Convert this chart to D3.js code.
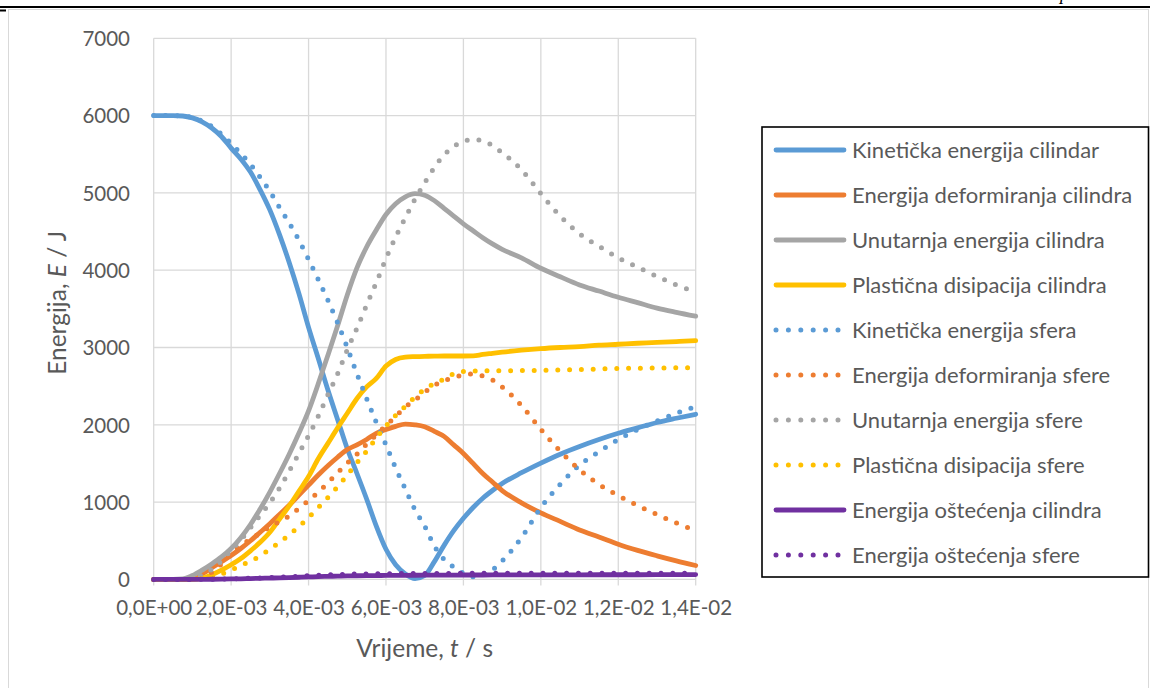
<!DOCTYPE html>
<html>
<head>
<meta charset="utf-8">
<script src="https://cdn.jsdelivr.net/npm/d3@7"></script>
<style>
  body { margin: 0; background: #fff; }
  svg { display: block; font-family: Lato, "Open Sans", sans-serif; }
</style>
</head>
<body>
<svg id="chart" width="1150" height="688"></svg>
<script>
// ---------- data ----------
const times = [0, 0.00025, 0.0005, 0.00075, 0.001, 0.00125, 0.0015, 0.00175, 0.002, 0.00225,
  0.0025, 0.00275, 0.003, 0.00325, 0.0035, 0.00375, 0.004, 0.00425, 0.0045, 0.00475,
  0.005, 0.00525, 0.0055, 0.00575, 0.006, 0.00625, 0.0065, 0.00675, 0.007, 0.00725,
  0.0075, 0.00775, 0.008, 0.00825, 0.0085, 0.00875, 0.009, 0.0095, 0.010, 0.0105,
  0.011, 0.0115, 0.012, 0.0125, 0.013, 0.0135, 0.014];

const kineticCyl = [6000, 6000, 6000, 5995, 5970, 5920, 5840, 5730, 5580, 5440,
  5270, 5040, 4780, 4460, 4100, 3700, 3260, 2860, 2450, 2070,
  1690, 1370, 1040, 690, 390, 190, 70, 10, 50, 230,
  440, 630, 790, 930, 1050, 1150, 1240, 1380, 1505, 1620,
  1720, 1810, 1890, 1960, 2030, 2085, 2136];
const deformCyl = [0, 0, 0, 0, 10, 70, 150, 230, 310, 400,
  500, 610, 720, 840, 960, 1090, 1220, 1350, 1470, 1580,
  1680, 1740, 1810, 1890, 1940, 1980, 2010, 2000, 1975, 1915,
  1850, 1740, 1630, 1500, 1370, 1260, 1150, 990, 860, 750,
  640, 550, 455, 375, 305, 240, 180];
const internalCyl = [0, 0, 0, 5, 50, 120, 200, 290, 400, 540,
  710, 910, 1130, 1370, 1620, 1890, 2180, 2530, 2900, 3280,
  3680, 4030, 4300, 4520, 4720, 4860, 4950, 4990, 4970, 4900,
  4800, 4700, 4600, 4510, 4420, 4340, 4270, 4160, 4025, 3915,
  3810, 3730, 3650, 3580, 3510, 3455, 3405];
const plasticCyl = [0, 0, 0, 0, 0, 15, 60, 120, 190, 270,
  370, 480, 610, 780, 950, 1140, 1330, 1560, 1760, 1960,
  2150, 2340, 2490, 2600, 2760, 2845, 2875, 2882, 2886, 2888,
  2890, 2890, 2890, 2892, 2910, 2925, 2940, 2965, 2985, 3000,
  3012, 3030, 3042, 3055, 3065, 3077, 3088];
const kineticSph = [6000, 6000, 6000, 5995, 5975, 5930, 5860, 5760, 5640, 5510,
  5370, 5200, 5020, 4810, 4610, 4390, 4140, 3880, 3610, 3320,
  3000, 2660, 2340, 2030, 1740, 1440, 1170, 900, 690, 430,
  260, 160, 80, 35, 65, 125, 240, 540, 930, 1230,
  1480, 1650, 1810, 1940, 2050, 2150, 2235];
const deformSph = [0, 0, 0, 0, 5, 30, 90, 200, 330, 440,
  520, 600, 680, 750, 820, 920, 1020, 1130, 1250, 1380,
  1505, 1620, 1750, 1870, 1990, 2110, 2230, 2320, 2420, 2510,
  2570, 2610, 2645, 2658, 2630, 2580, 2490, 2250, 1940, 1660,
  1420, 1230, 1085, 955, 840, 730, 630];
const internalSph = [0, 0, 0, 0, 20, 60, 130, 240, 380, 510,
  670, 830, 990, 1180, 1400, 1630, 1860, 2110, 2390, 2660,
  2970, 3250, 3550, 3840, 4150, 4430, 4680, 4920, 5130, 5330,
  5490, 5600, 5665, 5690, 5675, 5610, 5520, 5300, 4990, 4700,
  4470, 4310, 4160, 4040, 3920, 3810, 3720];
const plasticSph = [0, 0, 0, 0, 0, 10, 30, 70, 120, 180,
  235, 305, 390, 480, 575, 685, 800, 930, 1060, 1200,
  1350, 1510, 1660, 1830, 1985, 2120, 2240, 2360, 2460, 2535,
  2590, 2660, 2690, 2696, 2698, 2700, 2700, 2702, 2705, 2710,
  2715, 2722, 2728, 2732, 2735, 2738, 2740];
const damageCyl = [0, 0, 0, 0, 0, 1, 2, 4, 6, 8,
  11, 14, 17, 20, 24, 28, 32, 36, 39, 42,
  45, 47, 49, 50, 51, 52, 53, 54, 55, 55,
  56, 56, 57, 57, 57, 58, 58, 58, 59, 59,
  59, 60, 60, 60, 61, 61, 62];
const damageSph = [0, 0, 0, 0, 0, 1, 3, 5, 8, 11,
  15, 19, 24, 29, 35, 41, 47, 53, 58, 62,
  66, 69, 71, 73, 74, 75, 76, 76, 77, 77,
  77, 78, 78, 78, 78, 79, 79, 79, 79, 80,
  80, 80, 80, 80, 81, 81, 81];

const seriesNames = ["Kinetička energija cilindar", "Energija deformiranja cilindra",
  "Unutarnja energija cilindra", "Plastična disipacija cilindra",
  "Kinetička energija sfera", "Energija deformiranja sfere",
  "Unutarnja energija sfere", "Plastična disipacija sfere",
  "Energija oštećenja cilindra", "Energija oštećenja sfere"];
const seriesValues = [kineticCyl, deformCyl, internalCyl, plasticCyl,
  kineticSph, deformSph, internalSph, plasticSph, damageCyl, damageSph];
const seriesColors = ["#5B9BD5", "#ED7D31", "#A5A5A5", "#FFC000",
  "#5B9BD5", "#ED7D31", "#A5A5A5", "#FFC000", "#7030A0", "#7030A0"];
const seriesDotted = [false, false, false, false, true, true, true, true, false, true];

const xTicks = [0, 0.002, 0.004, 0.006, 0.008, 0.010, 0.012, 0.014];
const xTickLabels = ["0,0E+00", "2,0E-03", "4,0E-03", "6,0E-03", "8,0E-03", "1,0E-02", "1,2E-02", "1,4E-02"];
const yTicks = [0, 1000, 2000, 3000, 4000, 5000, 6000, 7000];

// ---------- layout ----------
const svg = d3.select("#chart");
const plot = { left: 153.7, right: 695.7, top: 38.3, bottom: 579.4 };
const textCol = "#595959";
const gridCol = "#D9D9D9";

const x = d3.scaleLinear().domain([0, 0.014]).range([plot.left, plot.right]);
const y = d3.scaleLinear().domain([0, 7000]).range([plot.bottom, plot.top]);

svg.append("rect").attr("width", 1150).attr("height", 688).attr("fill", "#fff");

// page decorations (document context around the chart)
svg.append("rect").attr("x", 8.5).attr("y", 9.5).attr("width", 1140).attr("height", 700)
  .attr("fill", "none").attr("stroke", gridCol).attr("stroke-width", 1);
svg.append("line").attr("x1", 0).attr("x2", 1150).attr("y1", 7).attr("y2", 7)
  .attr("stroke", "#000").attr("stroke-width", 2);
svg.append("line").attr("x1", 0).attr("x2", 6).attr("y1", 10.5).attr("y2", 10.5)
  .attr("stroke", "#000").attr("stroke-width", 2);
svg.append("text").attr("x", 1060).attr("y", 0).text("p")
  .attr("font-family", "Liberation Serif").attr("font-style", "italic")
  .attr("font-size", 18).attr("fill", "#000");

// gridlines
const g = svg.append("g");
g.selectAll(".hgrid").data(yTicks).join("line")
  .attr("x1", plot.left).attr("x2", plot.right)
  .attr("y1", d => y(d)).attr("y2", d => y(d))
  .attr("stroke", gridCol).attr("stroke-width", 1.3);
g.selectAll(".vgrid").data(xTicks).join("line")
  .attr("x1", d => x(d)).attr("x2", d => x(d))
  .attr("y1", plot.top).attr("y2", plot.bottom + 6)
  .attr("stroke", gridCol).attr("stroke-width", 1.3);

// axes labels
const yAxis = d3.axisLeft(y).tickValues(yTicks).tickSize(0).tickPadding(0).tickFormat(d3.format("d"));
const ya = svg.append("g").attr("transform", "translate(130,0)").call(yAxis);
ya.select(".domain").remove();
ya.selectAll("text").attr("fill", textCol).attr("font-size", 20.5).attr("font-family", "Lato").attr("dy", "0.36em");

const xAxis = d3.axisBottom(x).tickValues(xTicks).tickSize(0).tickPadding(0)
  .tickFormat((d, i) => xTickLabels[i]);
const xa = svg.append("g").attr("transform", "translate(0,608)").call(xAxis);
xa.select(".domain").remove();
xa.selectAll("text").attr("fill", textCol).attr("font-size", 20.5).attr("font-family", "Lato").attr("dy", "0.36em");

// axis titles
const xt = svg.append("text").attr("x", (plot.left + plot.right) / 2).attr("y", 648)
  .attr("text-anchor", "middle").attr("dy", "0.36em")
  .attr("fill", textCol).attr("font-size", 24.5);
xt.append("tspan").text("Vrijeme, ");
xt.append("tspan").attr("font-style", "italic").text("t");
xt.append("tspan").text(" / s");

const yt = svg.append("text").attr("transform", `translate(57,${(plot.top + plot.bottom) / 2 - 6}) rotate(-90)`)
  .attr("text-anchor", "middle").attr("dy", "0.36em")
  .attr("fill", textCol).attr("font-size", 24.5);
yt.append("tspan").text("Energija, ");
yt.append("tspan").attr("font-style", "italic").text("E");
yt.append("tspan").text(" / J");

// series
const line = d3.line().x((d, i) => x(times[i])).y(d => y(d)).curve(d3.curveMonotoneX);
const sg = svg.append("g");
seriesValues.forEach((vals, k) => {
  const p = sg.append("path").attr("d", line(vals)).attr("fill", "none")
    .attr("stroke", seriesColors[k]).attr("stroke-width", 4.8)
    .attr("stroke-linecap", "round").attr("stroke-linejoin", "round");
  if (seriesDotted[k]) p.attr("stroke-dasharray", "0 11.8").attr("stroke-width", 5);
});

// legend
const leg = svg.append("g");
leg.append("rect").attr("x", 762).attr("y", 127).attr("width", 386.5).attr("height", 450)
  .attr("fill", "#fff").attr("stroke", "#000").attr("stroke-width", 1.6);
seriesNames.forEach((name, k) => {
  const cy = 150 + k * 45;
  const l = leg.append("line").attr("x1", 776).attr("x2", seriesDotted[k] ? 838.5 : 844)
    .attr("y1", cy).attr("y2", cy)
    .attr("stroke", seriesColors[k]).attr("stroke-width", seriesDotted[k] ? 5 : 4.8)
    .attr("stroke-linecap", "round");
  if (seriesDotted[k]) l.attr("stroke-dasharray", "0 12.4");
  leg.append("text").attr("x", 852).attr("y", cy).attr("dy", "0.36em")
    .attr("fill", textCol).attr("font-size", 22).text(name);
});
</script>
</body>
</html>
